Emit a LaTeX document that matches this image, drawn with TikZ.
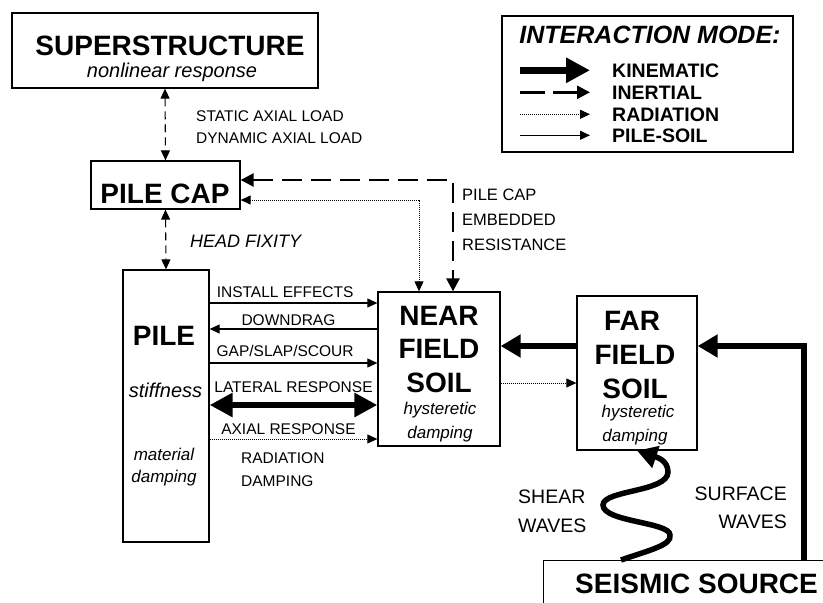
\documentclass[tikz,border=0pt]{standalone}
\usepackage{fontspec}
\setmainfont{Liberation Sans}
\usetikzlibrary{arrows.meta,positioning,calc}
\tikzset{
    box/.style={draw, rectangle, line width=1.3pt, inner sep=0pt},
    big/.style={font=\fontsize{28}{30}\selectfont\bfseries, inner sep=0pt, anchor=base},
    sub/.style={font=\fontsize{17}{20}\selectfont\itshape, inner sep=0pt, anchor=base},
    lbl/.style={font=\fontsize{15.5}{18}\selectfont, inner sep=0pt, anchor=base west},
    lab/.style={font=\fontsize{15.5}{18}\selectfont, inner sep=0pt, anchor=base},
    key/.style={font=\fontsize{19.5}{21}\selectfont\bfseries, inner sep=0pt, anchor=base west},
    wave/.style={font=\fontsize{19.5}{21}\selectfont, inner sep=0pt},
    kin/.style={line width=5.5pt, >={Triangle[length=20pt,width=22pt]}},
    inert/.style={line width=2.6pt, dash pattern=on 20pt off 9pt, >={Triangle[length=13pt,width=13pt]}},
    load/.style={line width=1.1pt, dash pattern=on 8pt off 5pt, >={Triangle[length=10pt,width=9pt]}},
    rad/.style={line width=0.9pt, dash pattern=on 1pt off 1pt, >={Triangle[length=10pt,width=9pt]}},
    ps/.style={line width=1.1pt, >={Triangle[length=10pt,width=9pt]}}
}
\begin{document}
\begin{tikzpicture}[x=1pt,y=-1pt]
    \clip (0,0) rectangle (823,603);

    % boxes
    \node[box, minimum width=306, minimum height=75] (super) at (165,50.5) {};
    \node[box, minimum width=149, minimum height=48] (cap) at (165.5,185) {};
    \node[box, minimum width=86, minimum height=272] (pile) at (166,406) {};
    \node[box, minimum width=122, minimum height=154] (near) at (439,369) {};
    \node[box, minimum width=120, minimum height=154] (far) at (637,373) {};
    \node[box, minimum width=300, minimum height=60, anchor=north west] (seismic) at (543,560) {};
    \node[box, minimum width=291, minimum height=136] (legend) at (647.5,84) {};

    % box texts
    \node[big] (super title) at (170,55) {SUPERSTRUCTURE};
    \node[sub, font=\fontsize{20}{22}\selectfont\itshape] (super sub) at (172,77) {nonlinear response};
    \node[big] (cap title) at (165,203) {PILE CAP};
    \node[big] (pile title) at (164,345) {PILE};
    \node[sub, font=\fontsize{20}{22}\selectfont\itshape] (pile sub1) at (165.5,397) {stiffness};
    \node[sub] (pile sub2) at (164,460) {material};
    \node[sub] (pile sub3) at (164,482) {damping};
    \node[big] (near t1) at (439,325) {NEAR};
    \node[big] (near t2) at (439,358) {FIELD};
    \node[big] (near t3) at (439,392) {SOIL};
    \node[sub] (near s1) at (440,414) {hysteretic};
    \node[sub] (near s2) at (440,438) {damping};
    \node[big] (far t1) at (632,330) {FAR};
    \node[big] (far t2) at (635,364) {FIELD};
    \node[big] (far t3) at (635,398) {SOIL};
    \node[sub] (far s1) at (638,417) {hysteretic};
    \node[sub] (far s2) at (635,441) {damping};
    \node[big, anchor=base west] (seismic title) at (575,593) {SEISMIC SOURCE};

    % legend
    \node[big, font=\fontsize{25}{27}\selectfont\bfseries\itshape] (legend title) at (650,43) {INTERACTION MODE:};
    \node[key] (kinlbl) at (612,77) {KINEMATIC};
    \node[key] (inertlbl) at (612,99) {INERTIAL};
    \node[key] (radlbl) at (612,121) {RADIATION};
    \node[key] (pslbl) at (612,142) {PILE-SOIL};
    \draw[kin, ->, line width=7pt, >={Triangle[length=24pt,width=24pt]}] ([xshift=-92pt]kinlbl.west) -- ([xshift=-22pt]kinlbl.west);
    \draw[inert, ->, dash pattern=on 25pt off 8pt] ([xshift=-92pt]inertlbl.west) -- ([xshift=-22pt]inertlbl.west);
    \draw[rad, ->] ([xshift=-92pt]radlbl.west) -- ([xshift=-22pt]radlbl.west);
    \draw[ps, ->] ([xshift=-92pt]pslbl.west) -- ([xshift=-22pt]pslbl.west);

    % superstructure / pile cap / pile
    \draw[load, <->] (super.south) -- (cap.north);
    \draw[load, <->] (cap.south) -- (pile.north);
    \node[lbl] (static) at (196,121) {STATIC AXIAL LOAD};
    \node[lbl] (dynamic) at (196,143) {DYNAMIC AXIAL LOAD};
    \node[lbl, font=\fontsize{18}{20}\selectfont\itshape] (fixity) at (190,247) {HEAD FIXITY};

    % pile cap embedded resistance
    \coordinate (inert corner) at (453,180);
    \coordinate (rad corner) at (419,200);
    \draw[inert, <->] (cap.east |- inert corner) -| (near.north -| inert corner);
    \draw[rad, <->] (cap.east |- rad corner) -| (near.north -| rad corner);
    \node[lbl, font=\fontsize{16.5}{18}\selectfont] (emb1) at (462,200) {PILE CAP};
    \node[lbl, font=\fontsize{16.5}{18}\selectfont] (emb2) at (462,225) {EMBEDDED};
    \node[lbl, font=\fontsize{16.5}{18}\selectfont] (emb3) at (462,250) {RESISTANCE};

    % pile - near field soil
    \coordinate (install) at (0,303);
    \coordinate (downdrag) at (0,329);
    \coordinate (gap) at (0,363);
    \coordinate (lateral) at (0,405);
    \coordinate (axial) at (0,439);
    \draw[ps, ->] (pile.east |- install) -- node[lab, pos=0.45, yshift=6pt] {INSTALL EFFECTS} (near.west |- install);
    \draw[ps, <-] (pile.east |- downdrag) -- node[lab, pos=0.47, yshift=4pt] {DOWNDRAG} (near.west |- downdrag);
    \draw[ps, ->] (pile.east |- gap) -- node[lab, pos=0.45, yshift=7pt] {GAP/SLAP/SCOUR} (near.west |- gap);
    \draw[kin, <->, line width=6pt, >={Triangle[length=23pt,width=23pt]}] (pile.east |- lateral) -- node[lab, pos=0.5, yshift=13pt] {LATERAL RESPONSE} (near.west |- lateral);
    \draw[rad, ->] (pile.east |- axial) -- node[lab, pos=0.47, yshift=5pt] {AXIAL RESPONSE} (near.west |- axial);
    \node[lbl] (raddamp1) at (241,463) {RADIATION};
    \node[lbl] (raddamp2) at (241,486) {DAMPING};

    % far field soil
    \coordinate (kinlvl) at (0,346);
    \coordinate (radlvl) at (0,383);
    \draw[kin, ->] (far.west |- kinlvl) -- (near.east |- kinlvl);
    \draw[rad, ->] (near.east |- radlvl) -- (far.west |- radlvl);

    % seismic source
    \coordinate (surf) at (804,0);
    \coordinate (shear base) at (621,560);
    \draw[kin, ->] (seismic.north -| surf) |- (far.east |- kinlvl);
    \draw[kin, ->] (shear base) .. controls (650,550) and (672,545) .. (670,535)
        .. controls (670,522) and (603,522) .. (603,505)
        .. controls (603,490) and (668,492) .. (668,472)
        .. controls (668,460) and (656,457) .. (far.south);
    \node[wave, anchor=base west] (shear1) at (518,503) {SHEAR};
    \node[wave, anchor=base west] (shear2) at (518,532) {WAVES};
    \node[wave, anchor=base east] (surface1) at (787,500) {SURFACE};
    \node[wave, anchor=base east] (surface2) at (787,528) {WAVES};
\end{tikzpicture}
\end{document}
